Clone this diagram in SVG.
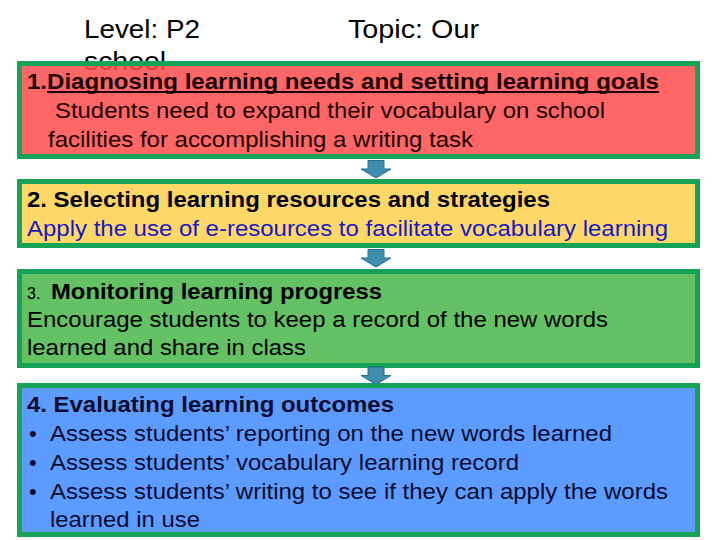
<svg xmlns="http://www.w3.org/2000/svg" xmlns:xlink="http://www.w3.org/1999/xlink" width="720" height="540" viewBox="0 0 720 540">
<style>
  text { font-family: "Liberation Sans", Arial, sans-serif; }
  .hdr { font-size: 26px; fill: #000; }
  .box { stroke: #17a355; stroke-width: 5; }
  .ttl { font-size: 22px; font-weight: bold; }
  .txt { font-size: 22px; }
  .arrow { fill: #3d8db0; stroke: #2a6c88; stroke-width: 1; }
</style>
<defs>
  <path id="arr" d="M-8,0 H8 V8.5 H15 L0,17.5 L-15,8.5 H-8 Z"/>
</defs>
<rect width="720" height="540" fill="#ffffff"/>
<g id="header">
  <text class="hdr" x="84" y="38" textLength="116" lengthAdjust="spacingAndGlyphs">Level: P2</text>
  <text class="hdr" x="348" y="38" textLength="131" lengthAdjust="spacingAndGlyphs">Topic: Our</text>
  <text class="hdr" x="84" y="70" textLength="82" lengthAdjust="spacingAndGlyphs">school</text>
</g>
<g id="node1">
  <rect class="box" x="19.5" y="63.5" width="678" height="93" fill="#ff4b4b" fill-opacity="0.85"/>
  <text class="ttl" x="27" y="89" fill="#1a0000" textLength="632" lengthAdjust="spacingAndGlyphs">1.Diagnosing learning needs and setting learning goals</text>
  <rect x="47" y="91" width="612" height="2" fill="#1a0000"/>
  <text class="txt" x="55" y="118" fill="#1a0000" textLength="550" lengthAdjust="spacingAndGlyphs">Students need to expand their vocabulary on school</text>
  <text class="txt" x="48" y="147" fill="#1a0000" textLength="425" lengthAdjust="spacingAndGlyphs">facilities for accomplishing a writing task</text>
</g>
<g id="node2">
  <rect class="box" x="19.5" y="181.5" width="678" height="64" fill="#fed866"/>
  <text class="ttl" x="27" y="207" fill="#000" textLength="523" lengthAdjust="spacingAndGlyphs">2. Selecting learning resources and strategies</text>
  <text class="txt" x="27" y="236" fill="#1818c8" textLength="641" lengthAdjust="spacingAndGlyphs">Apply the use of e-resources to facilitate vocabulary learning</text>
</g>
<g id="node3">
  <rect class="box" x="19.5" y="271.5" width="678" height="94" fill="#64c264"/>
  <text x="27" y="299" font-size="16" fill="#000">3.</text>
  <text class="ttl" x="51" y="299" fill="#000" textLength="331" lengthAdjust="spacingAndGlyphs">Monitoring learning progress</text>
  <text class="txt" x="27" y="327" fill="#000" textLength="581" lengthAdjust="spacingAndGlyphs">Encourage students to keep a record of the new words</text>
  <text class="txt" x="27" y="355" fill="#000" textLength="279" lengthAdjust="spacingAndGlyphs">learned and share in class</text>
</g>
<g id="node4">
  <rect class="box" x="19.5" y="385.5" width="678" height="149" fill="#5c9bff"/>
  <text class="ttl" x="27" y="412" fill="#0b0b30" textLength="367" lengthAdjust="spacingAndGlyphs">4. Evaluating learning outcomes</text>
  <text class="txt" x="29" y="441" fill="#0b0b30">•</text>
  <text class="txt" x="50" y="441" fill="#0b0b30" textLength="562" lengthAdjust="spacingAndGlyphs">Assess students’ reporting on the new words learned</text>
  <text class="txt" x="29" y="470" fill="#0b0b30">•</text>
  <text class="txt" x="50" y="470" fill="#0b0b30" textLength="469" lengthAdjust="spacingAndGlyphs">Assess students’ vocabulary learning record</text>
  <text class="txt" x="29" y="499" fill="#0b0b30">•</text>
  <text class="txt" x="50" y="499" fill="#0b0b30" textLength="618" lengthAdjust="spacingAndGlyphs">Assess students’ writing to see if they can apply the words</text>
  <text class="txt" x="50" y="527" fill="#0b0b30" textLength="150" lengthAdjust="spacingAndGlyphs">learned in use</text>
</g>
<g id="connectors">
  <use xlink:href="#arr" class="arrow" transform="translate(376,160.5)"/>
  <use xlink:href="#arr" class="arrow" transform="translate(376,249.5)"/>
  <use xlink:href="#arr" class="arrow" transform="translate(376,367)"/>
</g>
</svg>
